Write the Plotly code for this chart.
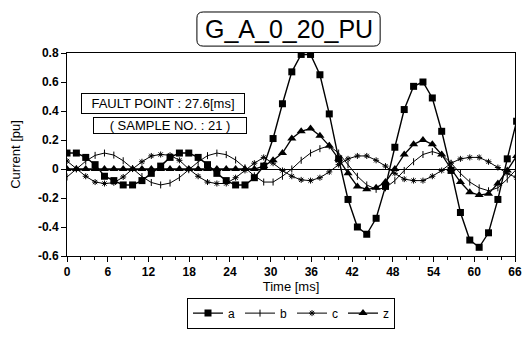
import plotly.graph_objects as go

# sample times [ms]
time_ms = [0.00, 1.38, 2.76, 4.14, 5.52, 6.90, 8.28, 9.66, 11.04, 12.42,
           13.80, 15.18, 16.56, 17.94, 19.32, 20.70, 22.08, 23.46, 24.84, 26.22,
           27.60, 28.98, 30.36, 31.74, 33.12, 34.50, 35.88, 37.26, 38.64, 40.02,
           41.40, 42.78, 44.16, 45.54, 46.92, 48.30, 49.68, 51.06, 52.44, 53.82,
           55.20, 56.58, 57.96, 59.34, 60.72, 62.10, 63.48, 64.86, 66.24]

cur_a = [0.11, 0.11, 0.08, 0.03, -0.05, -0.08, -0.11, -0.11, -0.08, -0.03,
         0.02, 0.08, 0.11, 0.11, 0.08, 0.03, -0.03, -0.08, -0.11, -0.11,
         -0.06, 0.02, 0.21, 0.45, 0.67, 0.79, 0.79, 0.65, 0.38, 0.07,
         -0.21, -0.40, -0.45, -0.34, -0.12, 0.15, 0.41, 0.57, 0.60, 0.49,
         0.26, -0.01, -0.30, -0.49, -0.54, -0.44, -0.21, 0.07, 0.33]

cur_b = [-0.055, 0.0, 0.054, 0.094, 0.11, 0.096, 0.057, 0.003, -0.052, -0.093,
         -0.11, -0.097, -0.059, -0.005, 0.049, 0.092, 0.11, 0.099, 0.062, 0.008,
         -0.047, -0.09, -0.09, -0.05, 0.0, 0.06, 0.11, 0.14, 0.16, 0.11,
         0.03, -0.05, -0.11, -0.14, -0.13, -0.08, -0.01, 0.05, 0.10, 0.12,
         0.10, 0.04, -0.03, -0.09, -0.13, -0.15, -0.13, -0.07, 0.0]

cur_c = [0.055, 0.0, -0.05, -0.09, -0.10, -0.095, -0.055, 0.0, 0.05, 0.09,
         0.10, 0.095, 0.06, 0.0, -0.05, -0.09, -0.10, -0.10, -0.06, -0.01,
         0.04, 0.08, 0.04, -0.01, -0.05, -0.075, -0.08, -0.06, -0.02, 0.03,
         0.07, 0.09, 0.09, 0.06, 0.02, -0.03, -0.07, -0.08, -0.08, -0.05,
         -0.01, 0.04, 0.07, 0.08, 0.08, 0.05, 0.01, -0.03, -0.06]

cur_z = [0.0, 0.0, 0.0, 0.0, 0.0, 0.0, 0.0, 0.0, 0.0, 0.0,
         0.0, 0.0, 0.0, 0.0, 0.0, 0.0, 0.0, 0.0, 0.0, 0.0,
         0.0, 0.02, 0.06, 0.11, 0.21, 0.26, 0.28, 0.23, 0.16, 0.07,
         -0.03, -0.12, -0.14, -0.13, -0.09, 0.0, 0.10, 0.17, 0.20, 0.17,
         0.10, 0.0, -0.09, -0.16, -0.18, -0.17, -0.10, -0.01, 0.09]

x_ticks = [0, 6, 12, 18, 24, 30, 36, 42, 48, 54, 60, 66]
y_ticks = [-0.6, -0.4, -0.2, 0, 0.2, 0.4, 0.6, 0.8]
y_tick_text = ["-0.6", "-0.4", "-0.2", "0", "0.2", "0.4", "0.6", "0.8"]

FONT = "Liberation Sans, Arial, sans-serif"

fig = go.Figure()
fig.add_trace(go.Scatter(x=time_ms, y=cur_a, name="a", mode="lines+markers",
                         line=dict(color="black", width=1.4),
                         marker=dict(symbol="square", size=7, color="black")))
fig.add_trace(go.Scatter(x=time_ms, y=cur_b, name="b", mode="lines+markers",
                         line=dict(color="black", width=1),
                         marker=dict(symbol="line-ns", size=5, color="black",
                                     line=dict(color="black", width=1))))
fig.add_trace(go.Scatter(x=time_ms, y=cur_c, name="c", mode="lines+markers",
                         line=dict(color="black", width=1),
                         marker=dict(symbol="asterisk", size=5, color="black",
                                     line=dict(color="black", width=1))))
fig.add_trace(go.Scatter(x=time_ms, y=cur_z, name="z", mode="lines+markers",
                         line=dict(color="black", width=1.3),
                         marker=dict(symbol="triangle-up", size=8, color="black")))

# page body adds an 8px offset, so the figure is sized to fit the 530x340 window
fig.update_layout(
    width=514, height=324,
    margin=dict(l=59, r=7, t=45, b=76, autoexpand=False),
    paper_bgcolor="white", plot_bgcolor="white",
    font=dict(family=FONT, color="black", size=11),
    showlegend=True,
    legend=dict(orientation="h", x=0.5, xanchor="center", y=-0.205, yanchor="top",
                bordercolor="black", borderwidth=1, font=dict(size=12),
                itemwidth=30, tracegroupgap=0),
    xaxis=dict(range=[0, 66], tickvals=x_ticks, ticks="outside", ticklen=5,
               tickwidth=1, tickcolor="black", showline=True, linecolor="black",
               linewidth=1, mirror=True, showgrid=False, zeroline=False,
               tickfont=dict(size=12, weight="bold"),
               minor=dict(dtick=2, ticks="outside", ticklen=3, tickcolor="black"),
               title=dict(text="Time [ms]", font=dict(size=13), standoff=2)),
    yaxis=dict(range=[-0.6, 0.8], tickvals=y_ticks, ticktext=y_tick_text,
               ticks="outside", ticklen=5, tickwidth=1, tickcolor="black",
               showline=True, linecolor="black", linewidth=1, mirror=True,
               showgrid=False, zeroline=True, zerolinecolor="black", zerolinewidth=1,
               tickfont=dict(size=12, weight="bold"),
               title=dict(text="Current [pu]", font=dict(size=13), standoff=18)),
)

# title with rounded box
x0, x1, y0, y1 = 0.290, 0.699, 1.034, 1.202
rx, ry = 0.014, 0.03
path = (f"M {x0+rx},{y0} L {x1-rx},{y0} Q {x1},{y0} {x1},{y0+ry} "
        f"L {x1},{y1-ry} Q {x1},{y1} {x1-rx},{y1} L {x0+rx},{y1} "
        f"Q {x0},{y1} {x0},{y1-ry} L {x0},{y0+ry} Q {x0},{y0} {x0+rx},{y0} Z")
fig.add_shape(type="path", path=path, xref="paper", yref="paper",
              line=dict(color="black", width=1))
fig.add_annotation(text="G_A_0_20_PU", xref="paper", yref="paper",
                   x=(x0 + x1) / 2, y=(y0 + y1) / 2, xanchor="center",
                   yanchor="middle", showarrow=False,
                   font=dict(size=25, family=FONT))

fig.add_annotation(text="FAULT POINT : 27.6[ms]", xref="paper", yref="paper",
                   x=0.214, y=0.749, xanchor="center", yanchor="middle",
                   showarrow=False, width=158,
                   bordercolor="black", borderwidth=1, borderpad=2,
                   bgcolor="white", font=dict(size=13))
fig.add_annotation(text="( SAMPLE NO. : 21 )", xref="paper", yref="paper",
                   x=0.231, y=0.643, xanchor="center", yanchor="middle",
                   showarrow=False, width=152,
                   bordercolor="black", borderwidth=1, borderpad=0,
                   bgcolor="white", font=dict(size=13))

fig.write_html("out.html")
